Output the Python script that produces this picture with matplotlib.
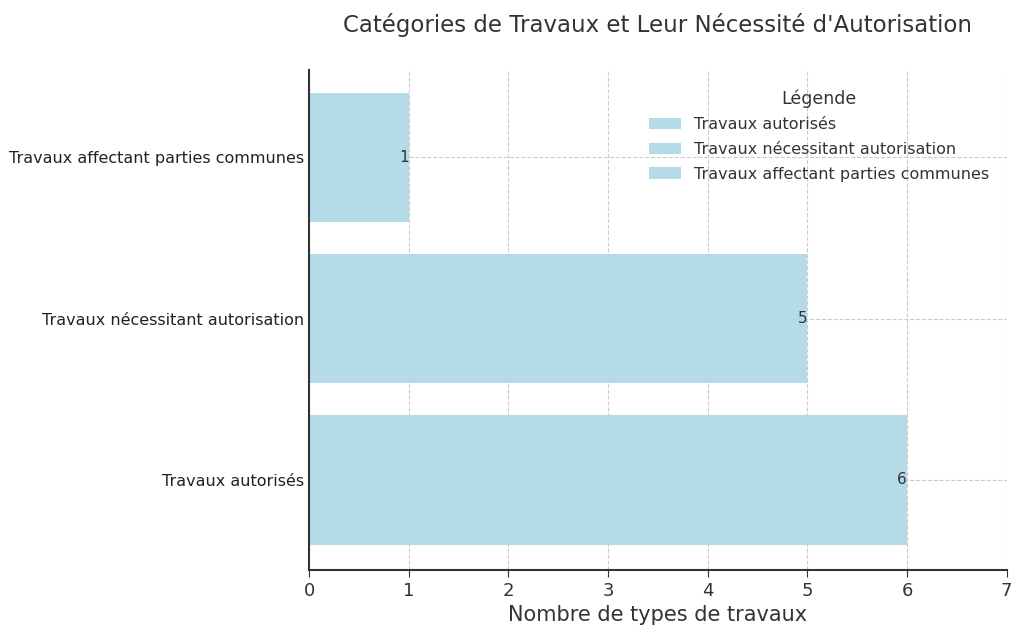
import matplotlib
matplotlib.use("Agg")
import matplotlib.pyplot as plt

categories = ["Travaux autorisés", "Travaux nécessitant autorisation",
              "Travaux affectant parties communes"]
counts = [6, 5, 1]

fig = plt.figure(figsize=(10.24, 6.36), dpi=100)
ax = fig.add_axes([0.302, 0.104, 0.681, 0.786])

bars = ax.barh(categories, counts, color="lightblue", alpha=0.9,
               label=categories, height=0.8)
for b, v in zip(bars, counts):
    ax.text(v - 0.05, b.get_y() + b.get_height() / 2, str(v), ha="center",
            va="center", fontsize=11, color="#333333")

ax.set_xlim(0, 7)
ax.set_ylim(-0.557, 2.54)
ax.grid(True, linestyle="--", color="#cccccc", linewidth=0.8)
ax.set_axisbelow(True)
for s in ["top", "right"]:
    ax.spines[s].set_visible(False)
for s in ["left", "bottom"]:
    ax.spines[s].set_color("#333333")
    ax.spines[s].set_linewidth(1.5)
ax.tick_params(axis="x", labelsize=13, colors="#333333", length=5)
ax.tick_params(axis="y", labelsize=11.5, colors="#222222", length=0)
ax.set_xlabel("Nombre de types de travaux", fontsize=15, color="#333333")
fig.suptitle("Catégories de Travaux et Leur Nécessité d'Autorisation",
             fontsize=16.5, color="#333333", x=0.642, y=0.98)

leg = ax.legend(title="Légende", frameon=False, fontsize=11.5,
                loc="upper right", bbox_to_anchor=(0.995, 0.99),
                labelspacing=0.6)
leg.get_title().set_fontsize(12.5)
leg.get_title().set_color("#333333")
for t in leg.get_texts():
    t.set_color("#333333")

fig.savefig("out.png", dpi=100)
